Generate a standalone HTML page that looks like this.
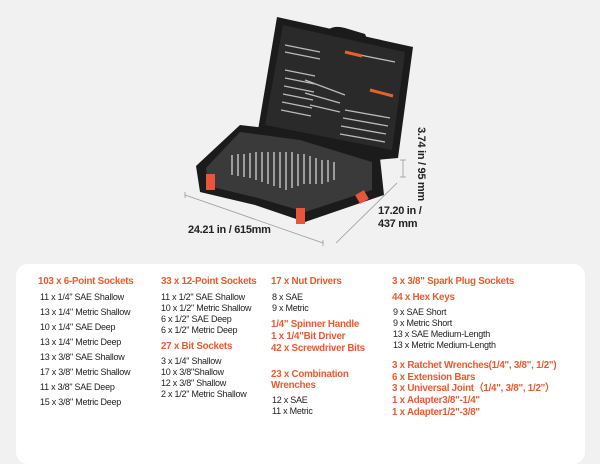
<!DOCTYPE html>
<html><head><style>
body{margin:0;width:600px;height:450px;background:#f1f1f1;position:relative;overflow:hidden;font-family:"Liberation Sans",sans-serif}
.p{position:absolute;left:16px;top:264px;width:569px;height:200px;background:#fff;border-radius:12px}
.t{position:absolute;white-space:nowrap;font-size:9px;color:#222;line-height:10px;letter-spacing:-0.25px}
.h{font-weight:bold;color:#ea5a30;font-size:9.8px}
.d{position:absolute;font-weight:bold;font-size:11px;color:#222;white-space:nowrap;letter-spacing:-0.3px}
</style></head><body>
<svg width="600" height="264" style="position:absolute;left:0;top:0">
<g stroke="#999" stroke-width="0.8">
<line x1="185" y1="195" x2="323" y2="243"/><line x1="185" y1="192" x2="185" y2="198"/><line x1="323" y1="240" x2="323" y2="246"/>
<line x1="336" y1="243" x2="397" y2="183"/>
<line x1="403" y1="160" x2="403" y2="177"/><line x1="400" y1="160" x2="406" y2="160"/><line x1="400" y1="177" x2="406" y2="177"/>
</g>
<polygon points="277,17 413,47 398,158 376,160 258,130" fill="#1b1b1b"/>
<path d="M325,34 Q330,24 345,28 L365,34 Q370,44 362,46 L330,40Z" fill="#1b1b1b"/>
<polygon points="283,25 405,52 392,150 265,125" fill="#2a2a2a"/>
<g stroke="#bbb" stroke-width="1.3">
<line x1="285" y1="70" x2="315" y2="76"/><line x1="285" y1="78" x2="315" y2="84"/><line x1="284" y1="86" x2="314" y2="92"/><line x1="283" y1="94" x2="313" y2="100"/><line x1="282" y1="102" x2="312" y2="108"/><line x1="281" y1="110" x2="311" y2="116"/>
<line x1="345" y1="110" x2="390" y2="118"/><line x1="343" y1="118" x2="388" y2="126"/><line x1="341" y1="126" x2="386" y2="134"/><line x1="340" y1="134" x2="385" y2="142"/>
<line x1="305" y1="80" x2="345" y2="95"/><line x1="305" y1="93" x2="340" y2="103"/><line x1="310" y1="105" x2="340" y2="112"/>
<line x1="285" y1="45" x2="320" y2="52"/><line x1="285" y1="52" x2="320" y2="59"/><line x1="360" y1="55" x2="395" y2="62"/>
</g>
<line x1="345" y1="52" x2="362" y2="56" stroke="#e8602c" stroke-width="3"/>
<line x1="370" y1="90" x2="393" y2="96" stroke="#e8602c" stroke-width="3"/>
<path d="M240,125 L300,132 L380,158 L384,195 L305,222 L255,205 L200,192 L196,166Z" fill="#1b1b1b"/>
<path d="M240,132 L300,140 L372,162 L372,190 L305,212 L258,198 L208,186 L206,168Z" fill="#3a3a3a"/>
<g stroke="#c8c8c8" stroke-width="1.4">
<line x1="232" y1="155" x2="232" y2="175"/><line x1="238" y1="154" x2="238" y2="176"/><line x1="244" y1="154" x2="244" y2="177"/><line x1="250" y1="153" x2="250" y2="178"/><line x1="256" y1="152" x2="256" y2="180"/><line x1="262" y1="152" x2="262" y2="182"/><line x1="268" y1="152" x2="268" y2="184"/><line x1="274" y1="152" x2="274" y2="186"/><line x1="280" y1="152" x2="280" y2="188"/><line x1="286" y1="152" x2="286" y2="190"/><line x1="292" y1="152" x2="292" y2="188"/><line x1="298" y1="154" x2="298" y2="186"/><line x1="304" y1="154" x2="304" y2="184"/><line x1="310" y1="156" x2="310" y2="184"/><line x1="316" y1="158" x2="316" y2="184"/><line x1="322" y1="160" x2="322" y2="184"/><line x1="328" y1="160" x2="328" y2="182"/><line x1="334" y1="162" x2="334" y2="180"/>
</g>
<rect x="206" y="174" width="9" height="16" fill="#e8553a"/>
<rect x="296" y="208" width="9" height="16" fill="#e8553a"/>
<rect x="357" y="192" width="10" height="10" fill="#e8553a" transform="rotate(-30 362 197)"/>
</svg>
<div class="d" style="left:188px;top:224px">24.21 in / 615mm</div>
<div class="d" style="left:378px;top:205px;line-height:13px">17.20 in /<br>437 mm</div>
<div class="d" style="left:376px;top:158px;transform:rotate(90deg);transform-origin:center;width:90px;text-align:center">3.74 in / 95 mm</div>
<div class="p"></div>
<div class="t h" style="left:38px;top:277px">103 x 6-Point Sockets</div>
<div class="t" style="left:40px;top:292px">11 x 1/4" SAE Shallow</div>
<div class="t" style="left:40px;top:307px">13 x 1/4" Metric Shallow</div>
<div class="t" style="left:40px;top:322px">10 x 1/4" SAE Deep</div>
<div class="t" style="left:40px;top:337px">13 x 1/4" Metric Deep</div>
<div class="t" style="left:40px;top:352px">13 x 3/8" SAE Shallow</div>
<div class="t" style="left:40px;top:367px">17 x 3/8" Metric Shallow</div>
<div class="t" style="left:40px;top:382px">11 x 3/8" SAE Deep</div>
<div class="t" style="left:40px;top:397px">15 x 3/8" Metric Deep</div>
<div class="t h" style="left:161px;top:277px">33 x 12-Point Sockets</div>
<div class="t" style="left:161px;top:292px">11 x 1/2" SAE Shallow</div>
<div class="t" style="left:161px;top:303px">10 x 1/2" Metric Shallow</div>
<div class="t" style="left:161px;top:314px">6 x 1/2" SAE Deep</div>
<div class="t" style="left:161px;top:325px">6 x 1/2" Metric Deep</div>
<div class="t h" style="left:161px;top:342px">27 x Bit Sockets</div>
<div class="t" style="left:161px;top:356px">3 x 1/4" Shallow</div>
<div class="t" style="left:161px;top:367px">10 x 3/8"Shallow</div>
<div class="t" style="left:161px;top:378px">12 x 3/8" Shallow</div>
<div class="t" style="left:161px;top:389px">2 x 1/2" Metric Shallow</div>
<div class="t h" style="left:271px;top:277px">17 x Nut Drivers</div>
<div class="t" style="left:272px;top:292px">8 x SAE</div>
<div class="t" style="left:272px;top:303px">9 x Metric</div>
<div class="t h" style="left:271px;top:319px;line-height:12px">1/4" Spinner Handle<br>1 x 1/4"Bit Driver<br>42 x Screwdriver Bits</div>
<div class="t h" style="left:271px;top:369px;line-height:11px">23 x Combination<br>Wrenches</div>
<div class="t" style="left:272px;top:395px">12 x SAE</div>
<div class="t" style="left:272px;top:406px">11 x Metric</div>
<div class="t h" style="left:392px;top:277px">3 x 3/8" Spark Plug Sockets</div>
<div class="t h" style="left:392px;top:293px">44 x Hex Keys</div>
<div class="t" style="left:393px;top:307px">9 x SAE Short</div>
<div class="t" style="left:393px;top:318px">9 x Metric Short</div>
<div class="t" style="left:393px;top:329px">13 x SAE Medium-Length</div>
<div class="t" style="left:393px;top:340px">13 x Metric Medium-Length</div>
<div class="t h" style="left:392px;top:360px;line-height:11.7px">3 x Ratchet Wrenches(1/4", 3/8", 1/2")<br>6 x Extension Bars<br>3 x Universal Joint（1/4", 3/8", 1/2"）<br>1 x Adapter3/8"-1/4"<br>1 x Adapter1/2"-3/8"</div>
</body></html>
